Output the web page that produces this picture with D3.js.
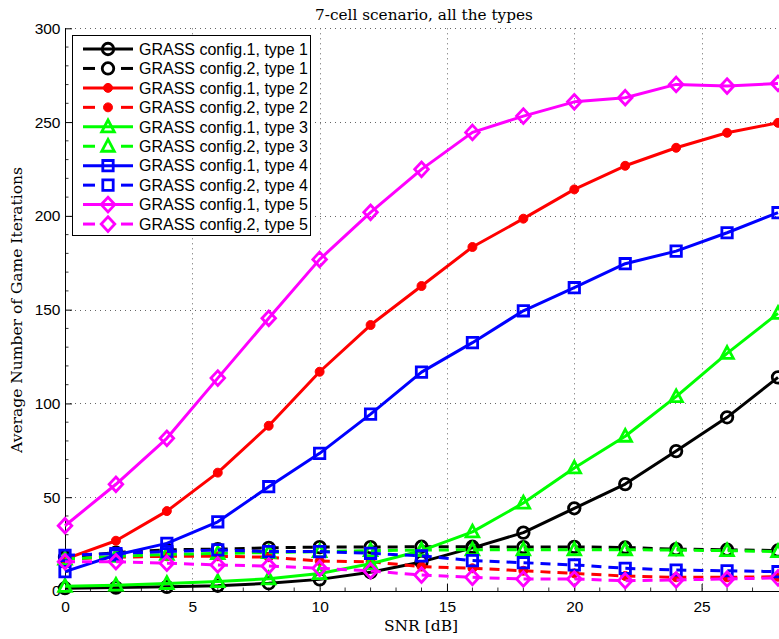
<!DOCTYPE html>
<html>
<head>
<meta charset="utf-8">
<script src="https://cdn.jsdelivr.net/npm/d3@7/dist/d3.min.js"></script>
<style>
  html, body { margin: 0; padding: 0; background: #fff; overflow: hidden; }
  svg { display: block; }
</style>
</head>
<body>
<svg id="chart" width="779" height="639"></svg>
<script>
// SNR sweep (dB)
const snr = [0, 2, 4, 6, 8, 10, 12, 14, 16, 18, 20, 22, 24, 26, 28];

// Average number of game iterations per configuration / user type
const cfg1Type1 = [1.5, 1.8, 2.2, 2.8, 4.1, 6.2, 10, 15.5, 23, 31.1, 44.1, 57, 74.6, 92.6, 113.9];
const cfg2Type1 = [18, 20.5, 22, 22.3, 23, 23.4, 23.4, 23.6, 23.6, 23.4, 23.5, 23.2, 22.3, 22, 21.6];
const cfg1Type2 = [17, 26.8, 42.6, 63.1, 88.1, 116.9, 141.8, 162.6, 183.4, 198.5, 214.1, 226.7, 236.3, 244.3, 249.6];
const cfg2Type2 = [17, 18, 18.5, 18.5, 18, 16, 15.6, 13, 12.1, 10.8, 9.4, 8, 7.3, 7.3, 7.6];
const cfg1Type3 = [2.5, 3.1, 4, 5, 6.5, 9.3, 14.5, 21.5, 31.5, 46.9, 65.6, 82.5, 103.6, 126.7, 148];
const cfg2Type3 = [17, 18.5, 19.5, 20, 20.5, 21, 21.5, 21.8, 22, 22, 22, 22, 21.8, 21.5, 21];
const cfg1Type4 = [10.3, 19.2, 25.4, 36.9, 55.6, 73.4, 94.3, 116.7, 132.4, 149.4, 161.7, 174.5, 181.2, 191, 201.7];
const cfg2Type4 = [19, 20, 21, 21.9, 21, 21, 20.1, 18.7, 16.2, 15.1, 13.9, 12.1, 11.2, 10.8, 10.3];
const cfg1Type5 = [34.8, 56.9, 81.4, 113.5, 145.4, 176.8, 201.9, 224.8, 244.5, 253.2, 260.8, 263, 270.1, 269.2, 270.6];
const cfg2Type5 = [15.6, 15.6, 14.8, 13.9, 13.3, 12.1, 10.7, 8.5, 7.3, 6.4, 6.4, 5.5, 5.9, 6.4, 7];

const legendLabels = [
  "GRASS config.1, type 1", "GRASS config.2, type 1",
  "GRASS config.1, type 2", "GRASS config.2, type 2",
  "GRASS config.1, type 3", "GRASS config.2, type 3",
  "GRASS config.1, type 4", "GRASS config.2, type 4",
  "GRASS config.1, type 5", "GRASS config.2, type 5"
];
const xTicks = [0, 5, 10, 15, 20, 25];
const yTicks = [0, 50, 100, 150, 200, 250, 300];

const titleText = "7-cell scenario, all the types";
const xLabel = "SNR [dB]";
const yLabel = "Average Number of Game Iterations";

// series table built from the arrays above, in plotting order
const series = [
  { values: cfg1Type1, color: "#000000", dashed: false, marker: "circle" },
  { values: cfg2Type1, color: "#000000", dashed: true,  marker: "circle" },
  { values: cfg1Type2, color: "#ff0000", dashed: false, marker: "dot" },
  { values: cfg2Type2, color: "#ff0000", dashed: true,  marker: "dot" },
  { values: cfg1Type3, color: "#00ff00", dashed: false, marker: "triangle" },
  { values: cfg2Type3, color: "#00ff00", dashed: true,  marker: "triangle" },
  { values: cfg1Type4, color: "#0000ff", dashed: false, marker: "square" },
  { values: cfg2Type4, color: "#0000ff", dashed: true,  marker: "square" },
  { values: cfg1Type5, color: "#ff00ff", dashed: false, marker: "diamond" },
  { values: cfg2Type5, color: "#ff00ff", dashed: true,  marker: "diamond" }
].map((s, i) => ({ ...s, label: legendLabels[i] }));

const svg = d3.select("#chart");
const plotLeft = 65, plotRight = 778, plotTop = 28.3, plotBottom = 591;

const x = d3.scaleLinear().domain([0, 28]).range([plotLeft, plotRight]);
const y = d3.scaleLinear().domain([0, 300]).range([plotBottom, plotTop]);

const serif = "'DejaVu Serif', 'Liberation Serif', serif";
const sans = "'Liberation Sans', Arial, sans-serif";

// dotted grid
const grid = svg.append("g").attr("stroke", "#666").attr("stroke-width", 1)
  .attr("stroke-dasharray", "1,4");
grid.selectAll("line.gx").data(xTicks.filter(d => d > 0)).join("line")
  .attr("x1", d => Math.round(x(d)) + 0.5).attr("x2", d => Math.round(x(d)) + 0.5)
  .attr("y1", y(300)).attr("y2", y(0));
grid.selectAll("line.gy").data(yTicks.filter(d => d > 0)).join("line")
  .attr("y1", d => Math.round(y(d)) + 0.5).attr("y2", d => Math.round(y(d)) + 0.5)
  .attr("x1", x(0)).attr("x2", 779);

// axes: ticks point inward
const xAxis = d3.axisBottom(x).tickValues(xTicks).tickSize(-7).tickPadding(10).tickFormat(d3.format("d"));
const yAxis = d3.axisLeft(y).tickValues(yTicks).tickSize(-7).tickPadding(4.5).tickFormat(d3.format("d"));

const gx = svg.append("g").attr("transform", `translate(0,${plotBottom})`).call(xAxis);
const gy = svg.append("g").attr("transform", `translate(${plotLeft},0)`).call(yAxis);
[gx, gy].forEach(g => {
  g.select(".domain").attr("stroke", "#000").attr("stroke-width", 1);
  g.selectAll(".tick line").attr("stroke", "#000");
  g.selectAll(".tick text").attr("fill", "#000").style("font-family", sans).style("font-size", "15.5px");
});
gx.select(".domain").attr("d", `M${plotLeft},0.5H779`);
gy.select(".domain").attr("d", `M0.5,${plotBottom}V${plotTop}`);

// minor ticks
const minor = svg.append("g").attr("stroke", "#000").attr("stroke-width", 0.8);
minor.selectAll("line.mx").data(d3.range(1, 28).filter(d => d % 5 !== 0)).join("line")
  .attr("x1", d => x(d)).attr("x2", d => x(d)).attr("y1", plotBottom).attr("y2", plotBottom - 3.5);
minor.selectAll("line.my").data(d3.range(10, 300, 10).filter(d => d % 50 !== 0)).join("line")
  .attr("y1", d => y(d)).attr("y2", d => y(d)).attr("x1", plotLeft).attr("x2", plotLeft + 3.5);

// marker shapes
function markerPath(kind) {
  switch (kind) {
    case "circle": return d3.symbol(d3.symbolCircle, Math.PI * 33)();
    case "dot": return d3.symbol(d3.symbolCircle, Math.PI * 20)();
    case "square": return "M-5.2,-5.2H5.2V5.2H-5.2Z";
    case "triangle": return "M0,-6.8L6.3,5L-6.3,5Z";
    case "diamond": return "M0,-7.3L6.8,0L0,7.3L-6.8,0Z";
  }
}
function styleMarker(sel, s) {
  if (s.marker === "dot") sel.attr("fill", s.color).attr("stroke", s.color).attr("stroke-width", 1);
  else sel.attr("fill", "none").attr("stroke", s.color).attr("stroke-width", 2.8);
}

const line = d3.line().x((d, i) => x(snr[i])).y(d => y(d));
const plot = svg.append("g");
series.forEach(s => {
  const g = plot.append("g");
  g.append("path").datum(s.values).attr("d", line)
    .attr("fill", "none").attr("stroke", s.color).attr("stroke-width", 3)
    .attr("stroke-linejoin", "round")
    .attr("stroke-dasharray", s.dashed ? "10,7" : null);
  g.selectAll("path.m").data(s.values).join("path")
    .attr("transform", (d, i) => `translate(${x(snr[i])},${y(d)})`)
    .attr("d", markerPath(s.marker))
    .call(sel => styleMarker(sel, s));
});

// legend
const lg = svg.append("g");
lg.append("rect").attr("x", 72.5).attr("y", 35.5).attr("width", 238).attr("height", 200)
  .attr("fill", "#fff").attr("stroke", "#000").attr("stroke-width", 1);
series.forEach((s, i) => {
  const cy = 49 + i * 19.45;
  if (s.dashed) {
    lg.append("line").attr("x1", 83).attr("x2", 95).attr("y1", cy).attr("y2", cy)
      .attr("stroke", s.color).attr("stroke-width", 3);
    lg.append("line").attr("x1", 121).attr("x2", 133).attr("y1", cy).attr("y2", cy)
      .attr("stroke", s.color).attr("stroke-width", 3);
  } else {
    lg.append("line").attr("x1", 83).attr("x2", 133).attr("y1", cy).attr("y2", cy)
      .attr("stroke", s.color).attr("stroke-width", 3);
  }
  lg.append("path").attr("transform", `translate(108,${cy})`).attr("d", markerPath(s.marker))
    .call(sel => styleMarker(sel, s));
  lg.append("text").attr("x", 139).attr("y", cy).attr("dy", "0.36em")
    .style("font-family", sans).style("font-size", "16px").attr("fill", "#000").text(s.label);
});

// titles
svg.append("text").attr("x", 424).attr("y", 20).attr("text-anchor", "middle")
  .style("font-family", serif).style("font-size", "15.3px").text(titleText);
svg.append("text").attr("x", 421).attr("y", 631).attr("text-anchor", "middle")
  .style("font-family", serif).style("font-size", "15.5px").text(xLabel);
svg.append("text").attr("transform", "translate(22,310) rotate(-90)").attr("text-anchor", "middle")
  .style("font-family", serif).style("font-size", "15.5px").text(yLabel);
</script>
</body>
</html>
